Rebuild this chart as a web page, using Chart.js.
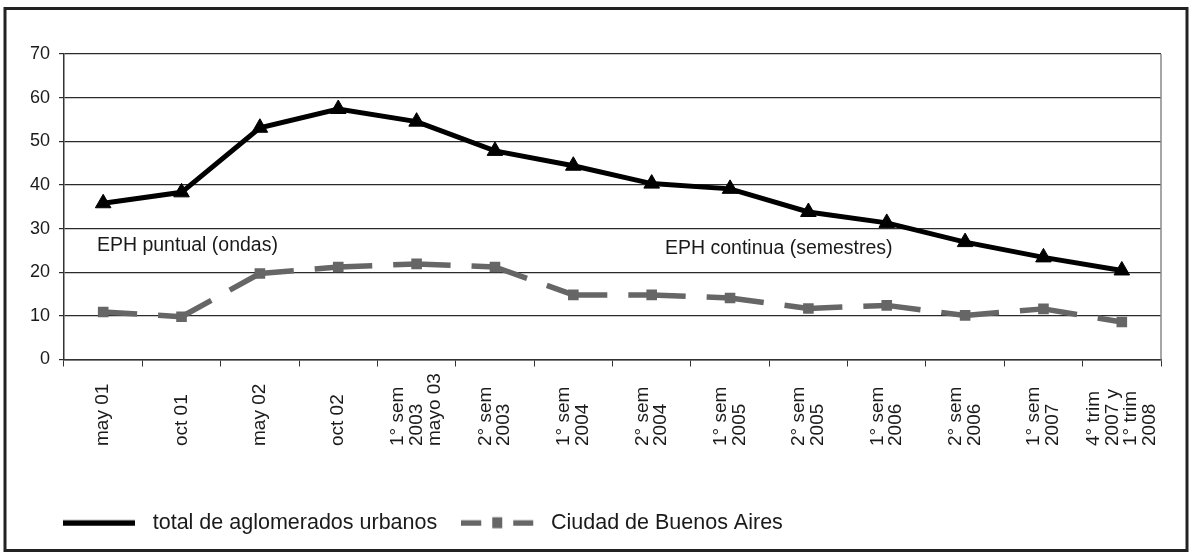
<!DOCTYPE html>
<html>
<head>
<meta charset="utf-8">
<script src="https://cdn.jsdelivr.net/npm/chart.js@4.4.1/dist/chart.umd.min.js"></script>
<style>
  body { margin: 0; background: #fff; }
  canvas { display: block; }
</style>
</head>
<body>
<canvas id="lineChart" width="1190" height="554"></canvas>
<script>
// categorias del eje x (cada una puede tener varias lineas)
const categories = [
  ['may 01'], ['oct 01'], ['may 02'], ['oct 02'],
  ['1° sem', '2003', 'mayo 03'],
  ['2° sem', '2003'], ['1° sem', '2004'], ['2° sem', '2004'],
  ['1° sem', '2005'], ['2° sem', '2005'], ['1° sem', '2006'],
  ['2° sem', '2006'], ['1° sem', '2007'],
  ['4° trim', '2007 y', '1° trim', '2008']
];

const totalAglomerados = [35.8, 38.3, 53.1, 57.4, 54.5, 47.8, 44.4, 40.3, 39.1, 33.8, 31.3, 26.9, 23.4, 20.4];
const ciudadBsAs = [10.9, 9.8, 19.7, 21.2, 21.9, 21.2, 14.8, 14.8, 14.1, 11.7, 12.4, 10.1, 11.6, 8.6];

const yTicks = [0, 10, 20, 30, 40, 50, 60, 70];
const seriesNames = ['total de aglomerados urbanos', 'Ciudad de Buenos Aires'];

// textos dentro del grafico: x = indice de categoria, y = valor
const notes = [
  { text: 'EPH puntual (ondas)', x: -0.08, y: 26.1 },
  { text: 'EPH continua (semestres)', x: 7.17, y: 25.4 }
];

const FONT = "'Liberation Sans', Arial, sans-serif";
const TEXT = '#1a1a1a';
const GRAY = '#666666';

// muestras de la leyenda
function legendSample(kind) {
  const c = document.createElement('canvas');
  c.width = 79;
  c.height = 14;
  const g = c.getContext('2d');
  if (kind === 0) {
    g.fillStyle = '#000';
    g.fillRect(0, 4.5, 72, 5.5);
  } else {
    g.fillStyle = GRAY;
    g.fillRect(0, 4.5, 20, 5.5);
    g.fillRect(31, 1.5, 10, 11);
    g.fillRect(52, 4.5, 20, 5.5);
  }
  return c;
}

const xLabelsPlugin = {
  id: 'xLabels',
  afterDraw(chart) {
    const ctx = chart.ctx;
    const x = chart.scales.x;
    const lh = 18.5;
    ctx.save();
    ctx.font = '19px ' + FONT;
    ctx.fillStyle = TEXT;
    ctx.textAlign = 'left';
    ctx.textBaseline = 'middle';
    categories.forEach((lines, i) => {
      const px = x.getPixelForValue(i);
      ctx.save();
      ctx.translate(px, 446);
      ctx.rotate(-Math.PI / 2);
      lines.forEach((line, k) => {
        ctx.fillText(line, 0, (k - (lines.length - 1) / 2) * lh);
      });
      ctx.restore();
    });
    ctx.restore();
  }
};

const notesPlugin = {
  id: 'notes',
  afterDatasetsDraw(chart) {
    const ctx = chart.ctx;
    const { x, y } = chart.scales;
    ctx.save();
    ctx.font = '19.5px ' + FONT;
    ctx.fillStyle = TEXT;
    ctx.textAlign = 'left';
    ctx.textBaseline = 'middle';
    notes.forEach(n => ctx.fillText(n.text, x.getPixelForValue(n.x), y.getPixelForValue(n.y)));
    ctx.restore();
  }
};

// la leyenda empieza un poco a la derecha del borde
const legendShift = {
  id: 'legendShift',
  afterLayout(chart) {
    if (chart.legend) chart.legend.left = 39;
  }
};

const framePlugin = {
  id: 'frame',
  afterDraw(chart) {
    const ctx = chart.ctx;
    const a = chart.chartArea;
    ctx.save();
    ctx.strokeStyle = '#888';
    ctx.lineWidth = 1.5;
    ctx.beginPath();
    ctx.moveTo(a.right, a.top);
    ctx.lineTo(a.right, a.bottom);
    ctx.stroke();
    ctx.strokeStyle = '#222';
    ctx.lineWidth = 3;
    ctx.strokeRect(5, 8.5, 1182, 542);
    ctx.restore();
  }
};

const ctx = document.getElementById('lineChart').getContext('2d');

new Chart(ctx, {
  type: 'line',
  data: {
    labels: categories.map(l => l.join(' ')),
    datasets: [
      {
        label: seriesNames[0],
        data: totalAglomerados,
        borderColor: '#000',
        backgroundColor: '#000',
        borderWidth: 5,
        pointStyle: 'triangle',
        pointRadius: 9,
        pointBorderWidth: 1,
        pointBackgroundColor: '#000',
        pointBorderColor: '#000',
        tension: 0
      },
      {
        label: seriesNames[1],
        data: ciudadBsAs,
        borderColor: GRAY,
        backgroundColor: GRAY,
        borderWidth: 5.5,
        borderDash: [57, 21],
        segment: {
          borderDashOffset: c => (c.p0DataIndex % 2 ? 23 : 23.01)
        },
        pointStyle: 'rect',
        pointRadius: 7.5,
        pointBorderWidth: 0,
        pointBackgroundColor: GRAY,
        tension: 0
      }
    ]
  },
  options: {
    responsive: false,
    animation: false,
    layout: {
      padding: { left: 0, right: 29, top: 54, bottom: 10.5 }
    },
    plugins: {
      title: { display: false },
      tooltip: { enabled: false },
      legend: {
        position: 'bottom',
        align: 'start',
        labels: {
          usePointStyle: true,
          pointStyleWidth: 79,
          padding: 24,
          color: TEXT,
          font: { family: FONT, size: 21.5 },
          generateLabels: chart => chart.data.datasets.map((ds, i) => ({
            text: ds.label,
            pointStyle: legendSample(i),
            fillStyle: 'transparent',
            strokeStyle: 'transparent',
            lineWidth: 0,
            hidden: false,
            datasetIndex: i,
            fontColor: TEXT
          }))
        }
      }
    },
    scales: {
      x: {
        offset: true,
        grid: {
          offset: true,
          drawOnChartArea: false,
          drawTicks: true,
          tickLength: 7,
          color: '#333'
        },
        border: { color: '#333', width: 1.5 },
        ticks: { display: false },
        afterFit: scale => { scale.height = 128.5; }
      },
      y: {
        min: 0,
        max: 70,
        afterBuildTicks: scale => { scale.ticks = yTicks.map(v => ({ value: v })); },
        grid: {
          color: '#2a2a2a',
          lineWidth: 1.2,
          tickLength: 5
        },
        border: { color: '#333', width: 1.5 },
        ticks: {
          padding: 9,
          color: TEXT,
          font: { family: FONT, size: 18 }
        },
        afterFit: scale => { scale.width = 64; }
      }
    }
  },
  plugins: [xLabelsPlugin, notesPlugin, legendShift, framePlugin]
});
</script>
</body>
</html>
